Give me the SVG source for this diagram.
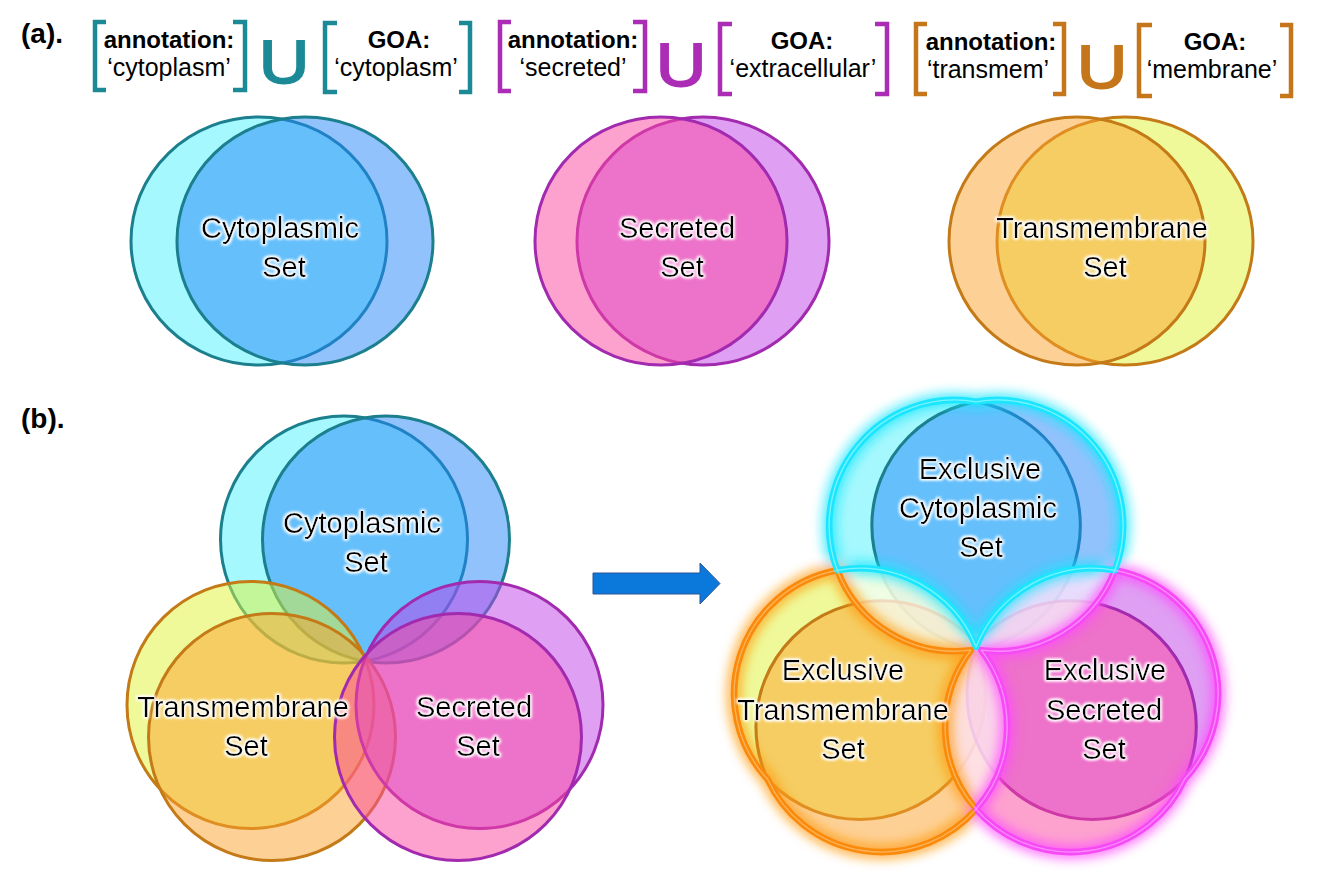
<svg xmlns="http://www.w3.org/2000/svg" width="1344" height="880" viewBox="0 0 1344 880">
<defs>
<style>
.lbl{font-family:"Liberation Sans",Arial,sans-serif;font-weight:bold;font-size:28px;fill:#000}
.hd{font-family:"Liberation Sans",Arial,sans-serif;font-weight:bold;font-size:24px;text-anchor:middle;fill:#000}
.q{font-family:"Liberation Sans",Arial,sans-serif;font-size:25px;text-anchor:middle;fill:#000}
.un{font-family:"Liberation Sans",Arial,sans-serif;font-size:62px;text-anchor:middle;stroke-width:2}
.br{fill:none;stroke-width:4.5}
.set{font-family:"Liberation Sans",Arial,sans-serif;font-size:29px;text-anchor:middle;fill:#000;filter:url(#halo)}
.cir{stroke-width:3;fill-opacity:0.5}
.tealS{stroke:#1B7F8E}
.purS{stroke:#A22AAF}
.orS{stroke:#C47A16}
.fA{fill:#4BF1FB}
.fB{fill:#2585F9}
.fY{fill:#DFF335}
.fP{fill:#FBA12B}
.fL{fill:#BF3FE7}
.fK{fill:#FB459F}
</style>
<filter id="halo" x="-20%" y="-50%" width="140%" height="200%">
<feMorphology in="SourceAlpha" operator="dilate" radius="1.3" result="d"/>
<feGaussianBlur in="d" stdDeviation="1.4" result="b"/>
<feFlood flood-color="#ffffff"/>
<feComposite in2="b" operator="in" result="w"/>
<feMerge><feMergeNode in="w"/><feMergeNode in="w"/><feMergeNode in="SourceGraphic"/></feMerge>
</filter>
<filter id="glowf" filterUnits="userSpaceOnUse" x="0" y="300" width="800" height="700">
<feGaussianBlur stdDeviation="6"/>
</filter>
<mask id="ovl" maskUnits="userSpaceOnUse" maskContentUnits="userSpaceOnUse" x="0" y="300" width="800" height="700">
<g fill="#fff">
<circle cx="344" cy="539.5" r="123.5"/><circle cx="386" cy="539.5" r="123.5"/>
<circle cx="250.5" cy="705" r="123.5"/><circle cx="272" cy="737" r="123.5"/>
<circle cx="479.5" cy="705" r="123.5"/><circle cx="458" cy="737" r="123.5"/>
</g>
<g fill="#000">
<use href="#Ec"/><use href="#Et"/><use href="#Es"/>
</g>
</mask>
<path id="Ec" d="M228.6,583.5 A123.5,123.5 0 0 1 365,417.8 A123.5,123.5 0 0 1 501.4,583.5 A123.5,123.5 0 0 0 365,658.7 A123.5,123.5 0 0 0 228.6,583.5 Z"/>
<path id="Et" d="M228.6,583.5 A123.5,123.5 0 0 0 359.9,662 A123.5,123.5 0 0 0 365,818.3 A123.5,123.5 0 0 1 160,789 A123.5,123.5 0 0 1 228.6,583.5 Z"/>
<path id="Es" d="M501.4,583.5 A123.5,123.5 0 0 1 370.1,662 A123.5,123.5 0 0 1 365,818.3 A123.5,123.5 0 0 0 570,789 A123.5,123.5 0 0 0 501.4,583.5 Z"/>
<g id="sixcircles">
<circle class="cir fA tealS" cx="344" cy="539.5" r="123.5"/>
<circle class="cir fB tealS" cx="386" cy="539.5" r="123.5"/>
<circle class="cir fY orS" cx="250.5" cy="705" r="123.5"/>
<circle class="cir fP orS" cx="272" cy="737" r="123.5"/>
<circle class="cir fL purS" cx="479.5" cy="705" r="123.5"/>
<circle class="cir fK purS" cx="458" cy="737" r="123.5"/>
</g>
</defs>

<rect x="0" y="0" width="1344" height="880" fill="#ffffff"/>

<g id="label-a"><text class="lbl" x="21" y="43">(a).</text></g>

<g id="formula-cyto">
<path class="br" stroke="#1B8A96" d="M106,22 H95 V90 H106"/>
<path class="br" stroke="#1B8A96" d="M233,22 H245 V90 H233"/>
<text class="hd" x="169" y="48">annotation:</text>
<text class="q" x="169" y="76">‘cytoplasm’</text>
<text class="un" x="284" y="83" fill="#1B8A96" stroke="#1B8A96" transform="translate(284 0) scale(1.12 1) translate(-284 0)">U</text>
<path class="br" stroke="#1B8A96" d="M337,23 H325 V92 H337"/>
<path class="br" stroke="#1B8A96" d="M459,23 H470 V92 H459"/>
<text class="hd" x="399" y="48">GOA:</text>
<text class="q" x="396" y="76">‘cytoplasm’</text>
</g>

<g id="formula-sec">
<path class="br" stroke="#AC2DB5" d="M511,22 H500 V91 H511"/>
<path class="br" stroke="#AC2DB5" d="M633,22 H645 V91 H633"/>
<text class="hd" x="573" y="48">annotation:</text>
<text class="q" x="573" y="76">‘secreted’</text>
<text class="un" x="681" y="86" fill="#AC2DB5" stroke="#AC2DB5" transform="translate(681 0) scale(1.12 1) translate(-681 0)">U</text>
<path class="br" stroke="#AC2DB5" d="M732,24 H720 V94 H732"/>
<path class="br" stroke="#AC2DB5" d="M875,24 H887 V94 H875"/>
<text class="hd" x="802" y="49">GOA:</text>
<text class="q" x="803" y="77">‘extracellular’</text>
</g>

<g id="formula-trans">
<path class="br" stroke="#C5761A" d="M927,24 H916 V94 H927"/>
<path class="br" stroke="#C5761A" d="M1053,24 H1064 V94 H1053"/>
<text class="hd" x="991" y="50">annotation:</text>
<text class="q" x="988" y="78">‘transmem’</text>
<text class="un" x="1102" y="88" fill="#C5761A" stroke="#C5761A" transform="translate(1102 0) scale(1.12 1) translate(-1102 0)">U</text>
<path class="br" stroke="#C5761A" d="M1152,25 H1139 V96 H1152"/>
<path class="br" stroke="#C5761A" d="M1280,25 H1291 V96 H1280"/>
<text class="hd" x="1215" y="50">GOA:</text>
<text class="q" x="1212" y="78">‘membrane’</text>
</g>

<g id="venn-cyto">
<ellipse class="cir fA tealS" cx="259" cy="241" rx="128" ry="124"/>
<ellipse class="cir fB tealS" cx="305" cy="241" rx="128" ry="124"/>
<text class="set" x="280" y="238">Cytoplasmic</text>
<text class="set" x="284" y="277">Set</text>
</g>

<g id="venn-sec">
<ellipse class="cir fL purS" cx="703" cy="241" rx="126" ry="124"/>
<ellipse class="cir fK purS" cx="661" cy="241" rx="126" ry="124"/>
<text class="set" x="677" y="238">Secreted</text>
<text class="set" x="682" y="277">Set</text>
</g>

<g id="venn-trans">
<ellipse class="cir fY orS" cx="1125" cy="241" rx="128" ry="124"/>
<ellipse class="cir fP orS" cx="1077" cy="241" rx="128" ry="124"/>
<text class="set" x="1102" y="238">Transmembrane</text>
<text class="set" x="1105" y="277">Set</text>
</g>

<g id="label-b"><text class="lbl" x="21" y="428">(b).</text></g>

<g id="venn-combined">
<use href="#sixcircles"/>
<text class="set" x="362" y="533">Cytoplasmic</text>
<text class="set" x="366" y="572">Set</text>
<text class="set" x="243" y="717">Transmembrane</text>
<text class="set" x="246" y="756">Set</text>
<text class="set" x="474" y="717">Secreted</text>
<text class="set" x="478" y="756">Set</text>
</g>

<g id="connectors">
<path d="M593,573 H700 V563 L720,583.5 L700,604 V594 H593 Z" fill="#0B78DB" stroke="#2F5597" stroke-width="1"/>
</g>

<g id="venn-exclusive">
<g transform="matrix(1.017 0 0 1.017 604.9 -23.1)">
<use href="#sixcircles"/>
<rect x="0" y="300" width="800" height="700" fill="#ffffff" fill-opacity="0.72" mask="url(#ovl)"/>
<g filter="url(#glowf)" fill="none" stroke-width="13" opacity="0.8" stroke-linejoin="round">
<use href="#Ec" stroke="#19E6FF"/>
<use href="#Et" stroke="#FF9A10"/>
<use href="#Es" stroke="#FF48FF"/>
</g>
<g fill="none" stroke-width="6.5" stroke-linejoin="round">
<use href="#Et" stroke="#FA8A0C"/>
<use href="#Es" stroke="#F64AF6"/>
<use href="#Ec" stroke="#1CE6FF"/>
</g>
<g fill="none" stroke-width="1.3" stroke-linejoin="round" opacity="0.6">
<use href="#Et" stroke="#FFD08A"/>
<use href="#Es" stroke="#FFB8FF"/>
<use href="#Ec" stroke="#B8FBFF"/>
</g>
</g>
<text class="set" x="980" y="479">Exclusive</text>
<text class="set" x="978" y="518">Cytoplasmic</text>
<text class="set" x="981" y="557">Set</text>
<text class="set" x="843" y="680">Exclusive</text>
<text class="set" x="843" y="720">Transmembrane</text>
<text class="set" x="843" y="759">Set</text>
<text class="set" x="1105" y="680">Exclusive</text>
<text class="set" x="1104" y="720">Secreted</text>
<text class="set" x="1104" y="759">Set</text>
</g>
</svg>
